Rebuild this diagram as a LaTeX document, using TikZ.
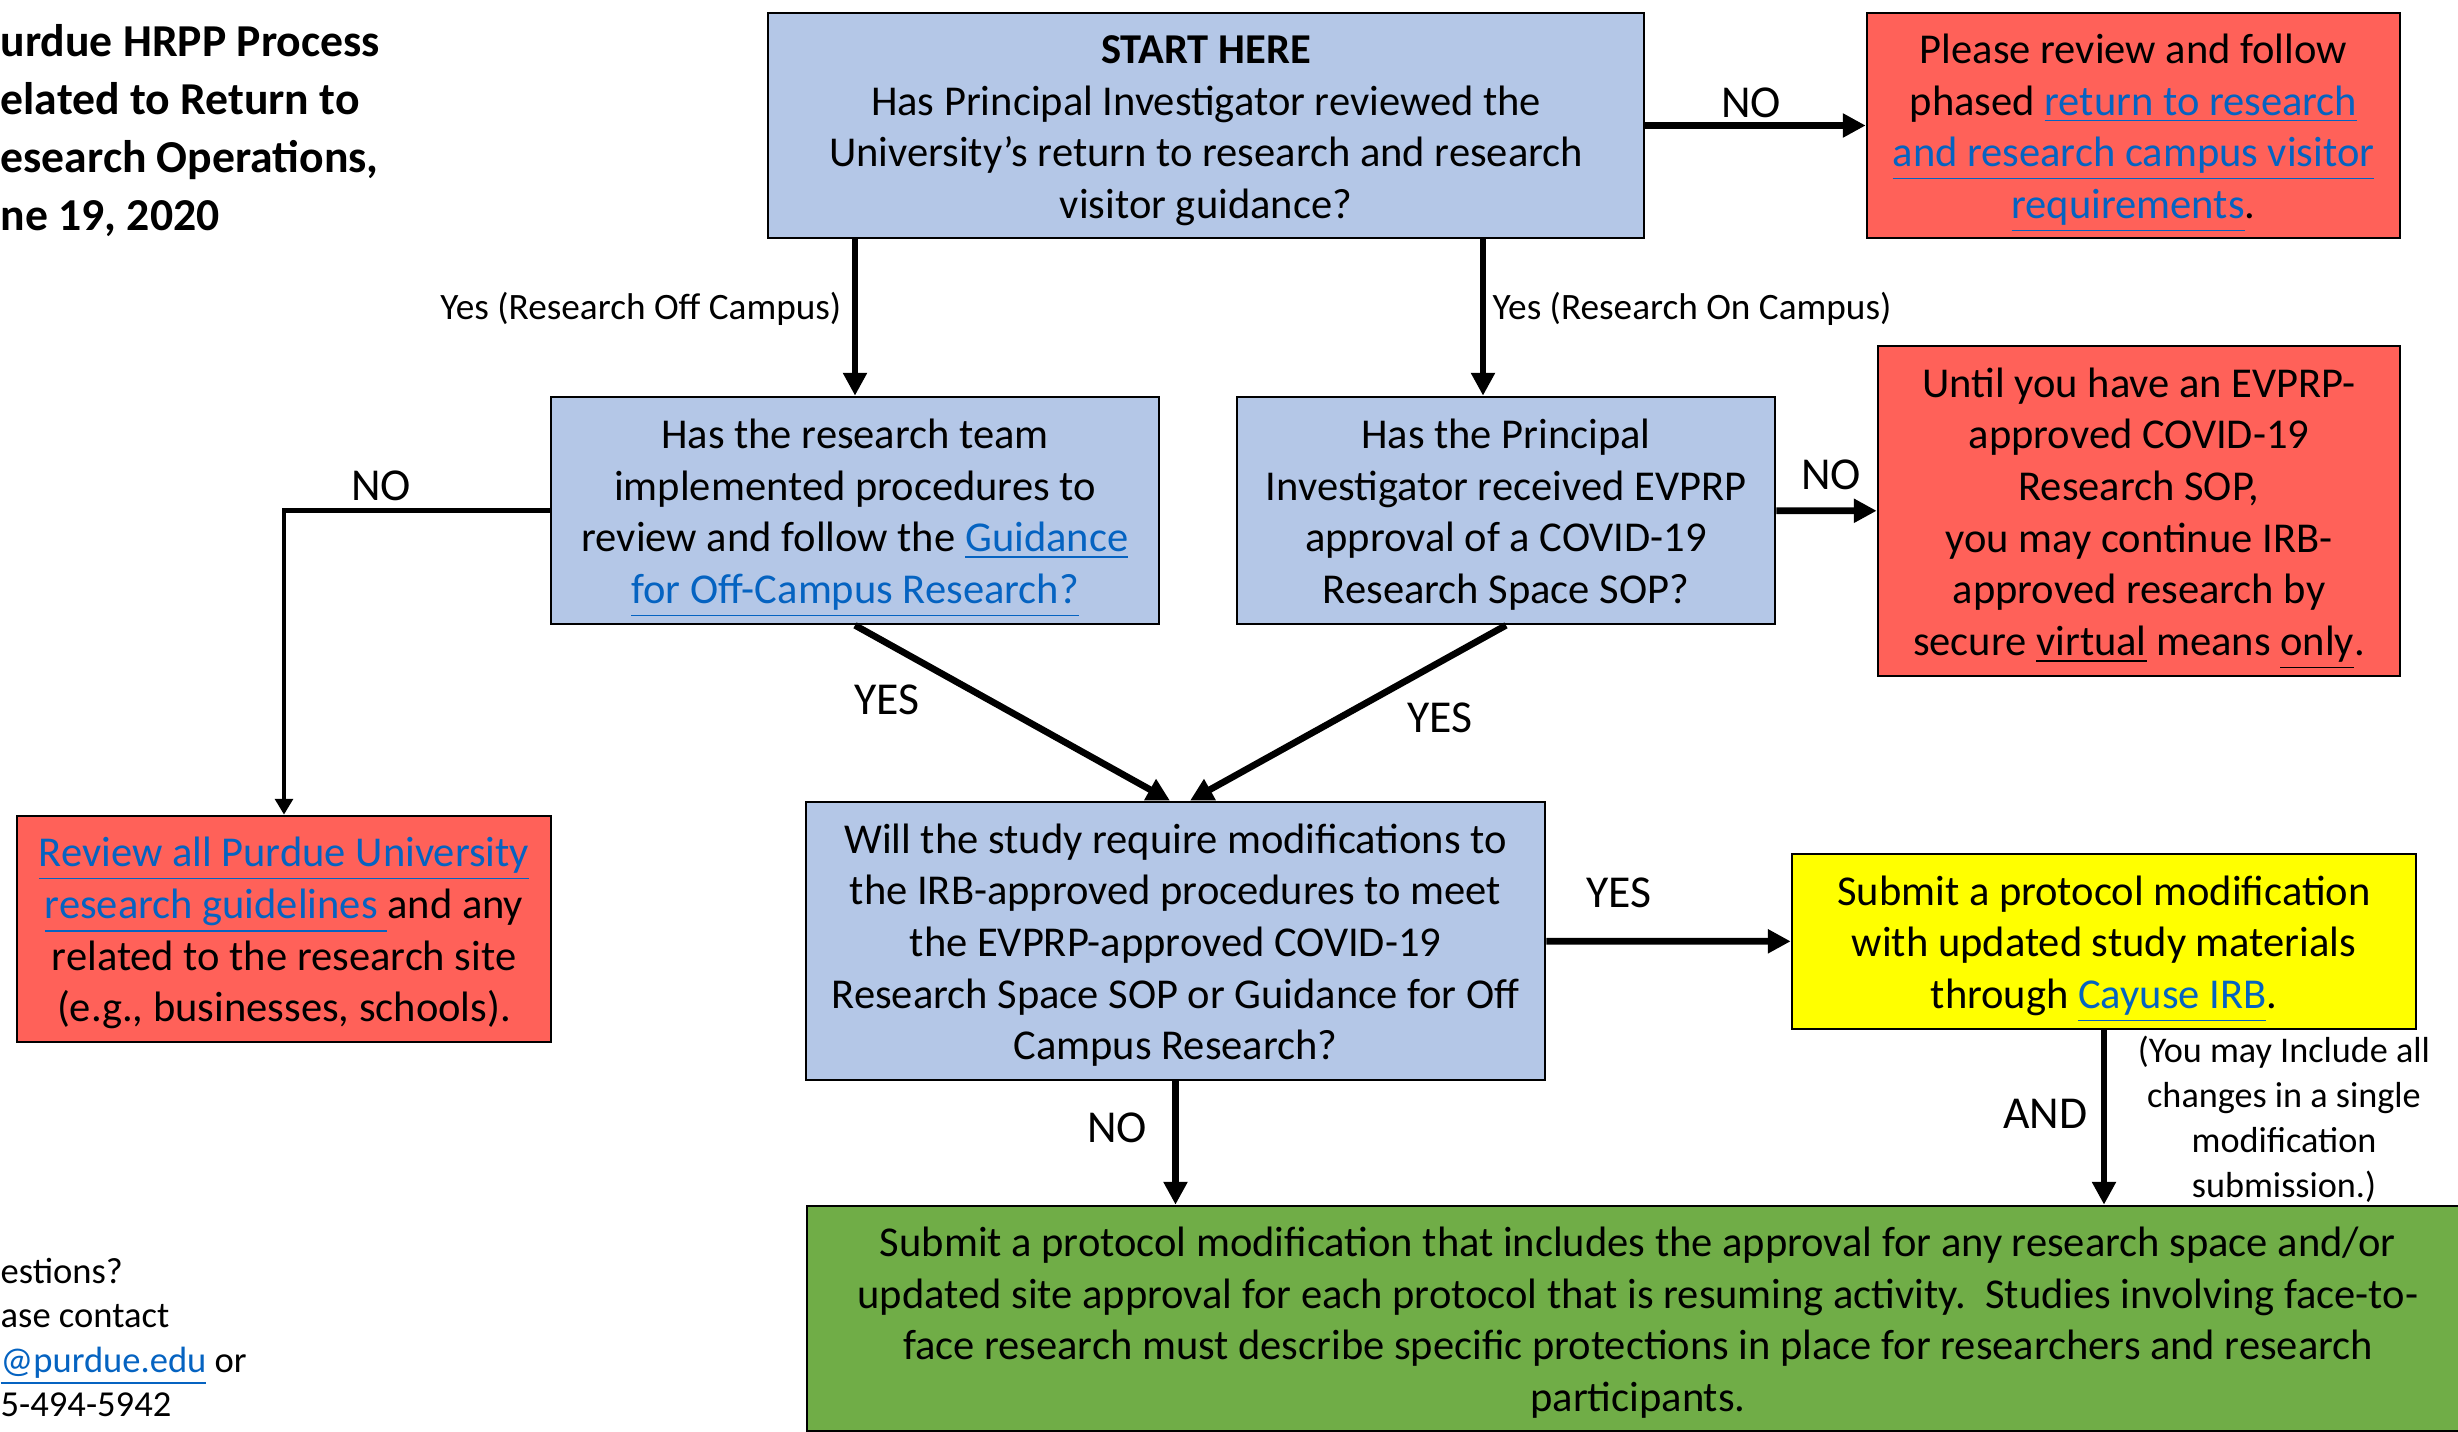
\documentclass[tikz,border=0pt]{standalone}
\usepackage{fontspec}
\setmainfont{Carlito}
\usetikzlibrary{arrows.meta,positioning}

\definecolor{qblue}{HTML}{B4C7E7}
\definecolor{stopred}{HTML}{FF6159}
\definecolor{modyellow}{HTML}{FFFF00}
\definecolor{gogreen}{HTML}{70AD47}
\definecolor{linkblue}{HTML}{0563C1}

\newcommand{\lnk}[1]{\textcolor{linkblue}{\underline{#1}}}
\newcommand{\bxtop}{\rule{0pt}{13.8pt}}
\newcommand{\bxbot}{\rule[-5pt]{0pt}{5pt}}

\tikzset{
  box/.style={draw, line width=0.75pt, align=center, inner sep=0pt,
    font=\fontsize{12.1}{14.7}\selectfont},
  qbox/.style={box, fill=qblue},
  rbox/.style={box, fill=stopred},
  arr/.style={-{Triangle[length=6.5pt,width=6.5pt]}, line width=1.9pt},
  thinarr/.style={-{Triangle[length=4.5pt,width=5pt]}, line width=1.4pt},
  lbl/.style={inner sep=0pt, font=\fontsize{13}{15.6}\selectfont},
  sublbl/.style={inner sep=0pt, font=\fontsize{10.6}{12.5}\selectfont},
  note/.style={inner sep=0pt, align=center, font=\fontsize{10.3}{12.8}\selectfont},
  ttl/.style={anchor=base west, inner sep=0pt, font=\bfseries\fontsize{13}{16.4}\selectfont},
  contact/.style={anchor=base west, inner sep=0pt, font=\fontsize{10.4}{12.7}\selectfont}
}

\begin{document}
\begin{tikzpicture}

  \path[use as bounding box, fill=white] (0,0) rectangle (24.58,-14.32);

  % title and contact, cut at the left edge
  \foreach \t [count=\i] in {urdue HRPP Process, elated to Return to, {esearch Operations,}, {ne 19, 2020}}
    \node[ttl] (title\i) at (0,{-0.57-0.577*(\i-1)}) {\t};

  \foreach \t [count=\i] in {estions?, ase contact, {\lnk{@purdue.edu} or}, 5-494-5942}
    \node[contact] (ask\i) at (0,{-12.83-0.446*(\i-1)}) {\t};

  % questions and outcomes
  \node[qbox, minimum width=8.76cm, minimum height=2.25cm] (start) at (12.06,-1.255)
    {\bxtop\textbf{START HERE}\\Has Principal Investigator reviewed the\\University’s return to research and research\\visitor guidance?\bxbot};
  \node[rbox, minimum width=5.33cm, minimum height=2.25cm] (phased) at (21.335,-1.255)
    {\bxtop Please review and follow\\phased \lnk{return to research}\\\lnk{and research campus visitor}\\\lnk{requirements}.\bxbot};
  \node[qbox, minimum width=6.08cm, minimum height=2.27cm] (offcamp) at (8.55,-5.105)
    {\bxtop Has the research team\\implemented procedures to\\review and follow the \lnk{Guidance}\\\lnk{for Off-Campus Research?}\bxbot};
  \node[qbox, minimum width=5.38cm, minimum height=2.27cm] (oncamp) at (15.06,-5.105)
    {\bxtop Has the Principal\\Investigator received EVPRP\\approval of a COVID-19\\Research Space SOP?\bxbot};
  \node[rbox, minimum width=5.22cm, minimum height=3.30cm] (virtual) at (21.39,-5.11)
    {\bxtop Until you have an EVPRP-\\approved COVID-19\\Research SOP,\\you may continue IRB-\\approved research by\\secure \underline{virtual} means \underline{only}.\bxbot};
  \node[rbox, minimum width=5.34cm, minimum height=2.26cm] (guides) at (2.84,-9.29)
    {\bxtop\lnk{Review all Purdue University}\\\lnk{research guidelines }and any\\related to the research site\\(e.g., businesses, schools).\bxbot};
  \node[qbox, minimum width=7.39cm, minimum height=2.78cm] (modq) at (11.755,-9.41)
    {\bxtop Will the study require modifications to\\the IRB-approved procedures to meet\\the EVPRP-approved COVID-19\\Research Space SOP or Guidance for Off\\Campus Research?\bxbot};
  \node[box, fill=modyellow, minimum width=6.24cm, minimum height=1.75cm] (cayuse) at (21.04,-9.415)
    {\bxtop Submit a protocol modification\\with updated study materials\\through \lnk{Cayuse IRB}.\bxbot};
  \node[box, fill=gogreen, minimum width=16.62cm, minimum height=2.25cm] (submit) at (16.38,-13.185)
    {\bxtop Submit a protocol modification that includes the approval for any research space and/or\\updated site approval for each protocol that is resuming activity.\ \ Studies involving face-to-\\face research must describe specific protections in place for researchers and research\\participants.\bxbot};

  % connectors
  \coordinate (oncIn) at ([xshift=-0.23cm]oncamp.north);
  \draw[arr] (start) -- (phased);
  \draw[arr] (start.south -| offcamp.north) -- (offcamp);
  \draw[arr] (oncIn |- start.south) -- (oncIn);
  \draw[arr] (oncamp) -- (virtual);
  \draw[thinarr] (offcamp.west) -| (guides.north);
  \draw[arr] (offcamp.south) -- ([xshift=-0.055cm]modq.north);
  \draw[arr] (oncamp.south) -- ([xshift=0.145cm]modq.north);
  \draw[arr] (modq) -- (cayuse);
  \draw[arr] (modq.south) -- (modq.south |- submit.north);
  \draw[arr] (cayuse.south) -- (cayuse.south |- submit.north);

  % labels
  \foreach \n/\x/\y/\t in {noA/17.51/-1.03/NO, noB/18.31/-4.75/NO, noC/3.81/-4.86/NO,
      yesA/8.87/-7.00/YES, yesB/14.40/-7.18/YES, yesC/16.19/-8.93/YES, noD/11.17/-11.28/NO}
    \node[lbl] (\n) at (\x,\y) {\t};

  \node[sublbl, anchor=east] (offYes) at (8.42,-3.09) {Yes (Research Off Campus)};
  \node[sublbl, anchor=west] (onYes) at (14.92,-3.09) {Yes (Research On Campus)};
  \node[lbl, anchor=east] (andlbl) at (20.88,-11.14) {AND};
  \node[note] (single) at (22.84,-11.195) {(You may Include all\\changes in a single\\modification\\submission.)};

\end{tikzpicture}
\end{document}
